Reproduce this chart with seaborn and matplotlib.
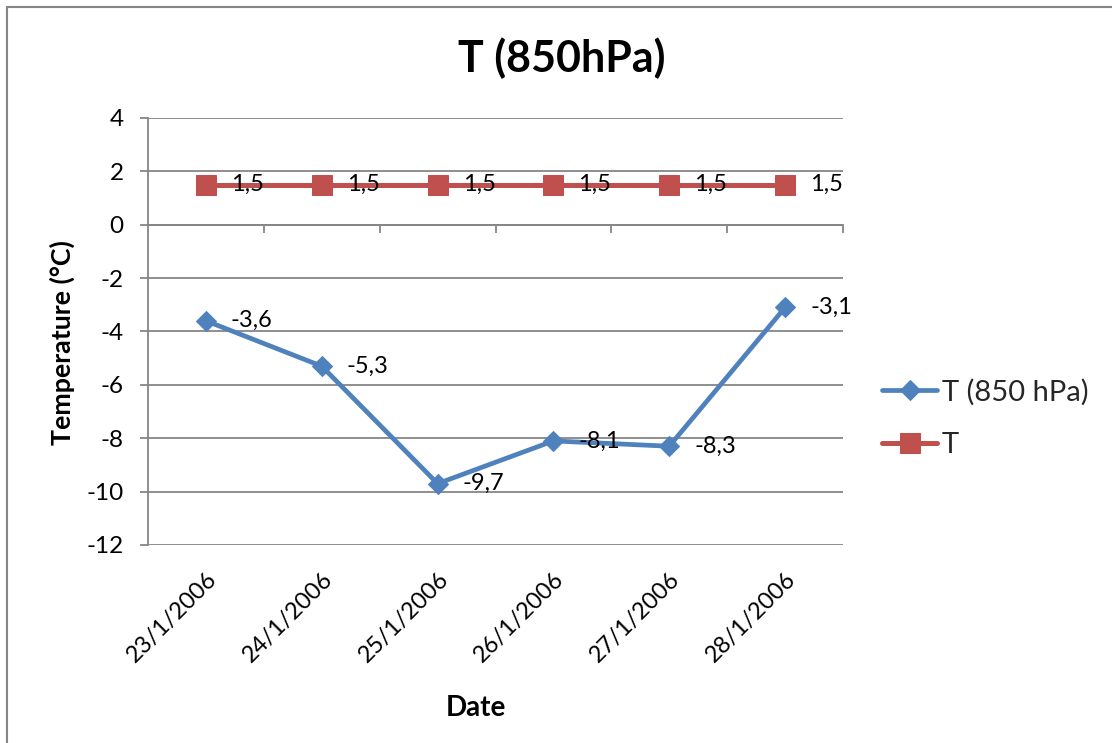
import matplotlib
matplotlib.use("Agg")
import matplotlib.pyplot as plt
import seaborn as sns
import pandas as pd
from matplotlib.lines import Line2D

# Data
dates = ["23/1/2006", "24/1/2006", "25/1/2006", "26/1/2006", "27/1/2006", "28/1/2006"]
t_850 = [-3.6, -5.3, -9.7, -8.1, -8.3, -3.1]
t_surface = [1.5, 1.5, 1.5, 1.5, 1.5, 1.5]
y_ticks = [-12, -10, -8, -6, -4, -2, 0, 2, 4]

series_850 = "T (850 hPa)"
series_t = "T"

BLUE = "#4F81BD"
RED = "#C0504D"
GRAY = "#868686"

sns.set_theme(style="white")
plt.rcParams["font.family"] = ["Lato", "DejaVu Sans"]
plt.rcParams["axes.unicode_minus"] = False

fig = plt.figure(figsize=(11.12, 7.43), dpi=100)
ax = fig.add_axes([0.1331, 0.2665, 0.625, 0.5747])

pos = list(range(len(dates)))
df850 = pd.DataFrame({"pos": pos, "value": t_850})
dft = pd.DataFrame({"pos": pos, "value": t_surface})

sns.lineplot(data=df850, x="pos", y="value", ax=ax, color=BLUE, lw=3.4,
             marker="D", markersize=10, markeredgecolor=BLUE,
             label=series_850, zorder=4)
sns.lineplot(data=dft, x="pos", y="value", ax=ax, color=RED, lw=3.6,
             marker="s", markersize=14, markeredgecolor=RED,
             label=series_t, zorder=4)

# Data labels with decimal comma
def fmt(v):
    return f"{v:.1f}".replace(".", ",")

for vals in (t_850, t_surface):
    for i, v in enumerate(vals):
        ax.annotate(fmt(v), (i, v), xytext=(18, 0), textcoords="offset points",
                    ha="left", va="center", fontsize=17, color="black", zorder=5)

# Axes styling
ax.set_xlim(-0.5, len(dates) - 0.5)
ax.set_ylim(y_ticks[0], y_ticks[-1])
ax.set_yticks(y_ticks)
ax.set_yticklabels([str(t) for t in y_ticks])
ax.set_xticks(pos)
ax.set_xticklabels(dates, rotation=45, ha="right", va="top", rotation_mode="anchor")

for side in ("top", "right", "bottom"):
    ax.spines[side].set_visible(False)
ax.spines["left"].set_color(GRAY)
ax.spines["left"].set_linewidth(1.3)

ax.set_axisbelow(True)
ax.yaxis.grid(True, color=GRAY, lw=1.3)
ax.xaxis.grid(False)

ax.tick_params(axis="y", which="major", direction="out", length=5.5, width=1.3,
               color=GRAY, pad=12, labelsize=17.5, labelcolor="black", left=True)
ax.tick_params(axis="x", which="major", length=0, pad=17, labelsize=17,
               labelcolor="black")

# Category axis crossing at zero, with tick marks between categories
frac_zero = (0 - y_ticks[0]) / (y_ticks[-1] - y_ticks[0])
sec = ax.secondary_xaxis(frac_zero)
sec.set_xticks([p + 0.5 for p in pos])
sec.tick_params(direction="in", length=5.5, width=1.3, color=GRAY,
                labeltop=False, labelbottom=False)
for sp in sec.spines.values():
    sp.set_color(GRAY)
    sp.set_linewidth(1.3)

ax.set_xlabel("Date", fontsize=20, fontweight="bold", color="black")
ax.set_ylabel("Temperature (°C)", fontsize=19.3, fontweight="bold", color="black")
ax.xaxis.set_label_coords(0.472, -0.351)
ax.yaxis.set_label_coords(-0.105, 0.475)

fig.text(0.505, 0.922, "T (850hPa)", ha="center", va="center",
         fontsize=31, fontweight="bold", color="black")

# Legend
handles, labels = ax.get_legend_handles_labels()
ax.legend(handles, labels, loc="center left", bbox_to_anchor=(0.793, 0.4367),
          bbox_transform=fig.transFigure, frameon=False, fontsize=21,
          handlelength=1.9, handletextpad=0.15, labelspacing=0.92,
          borderpad=0, borderaxespad=0, numpoints=1)

# Chart-area border (top and left edges)
fig.add_artist(Line2D([7 / 1112, 1], [1 - 7 / 743, 1 - 7 / 743],
                      transform=fig.transFigure, color=GRAY, lw=1.5))
fig.add_artist(Line2D([7 / 1112, 7 / 1112], [0, 1 - 7 / 743],
                      transform=fig.transFigure, color=GRAY, lw=1.5))

fig.savefig("out.png", dpi=100, facecolor="white")
